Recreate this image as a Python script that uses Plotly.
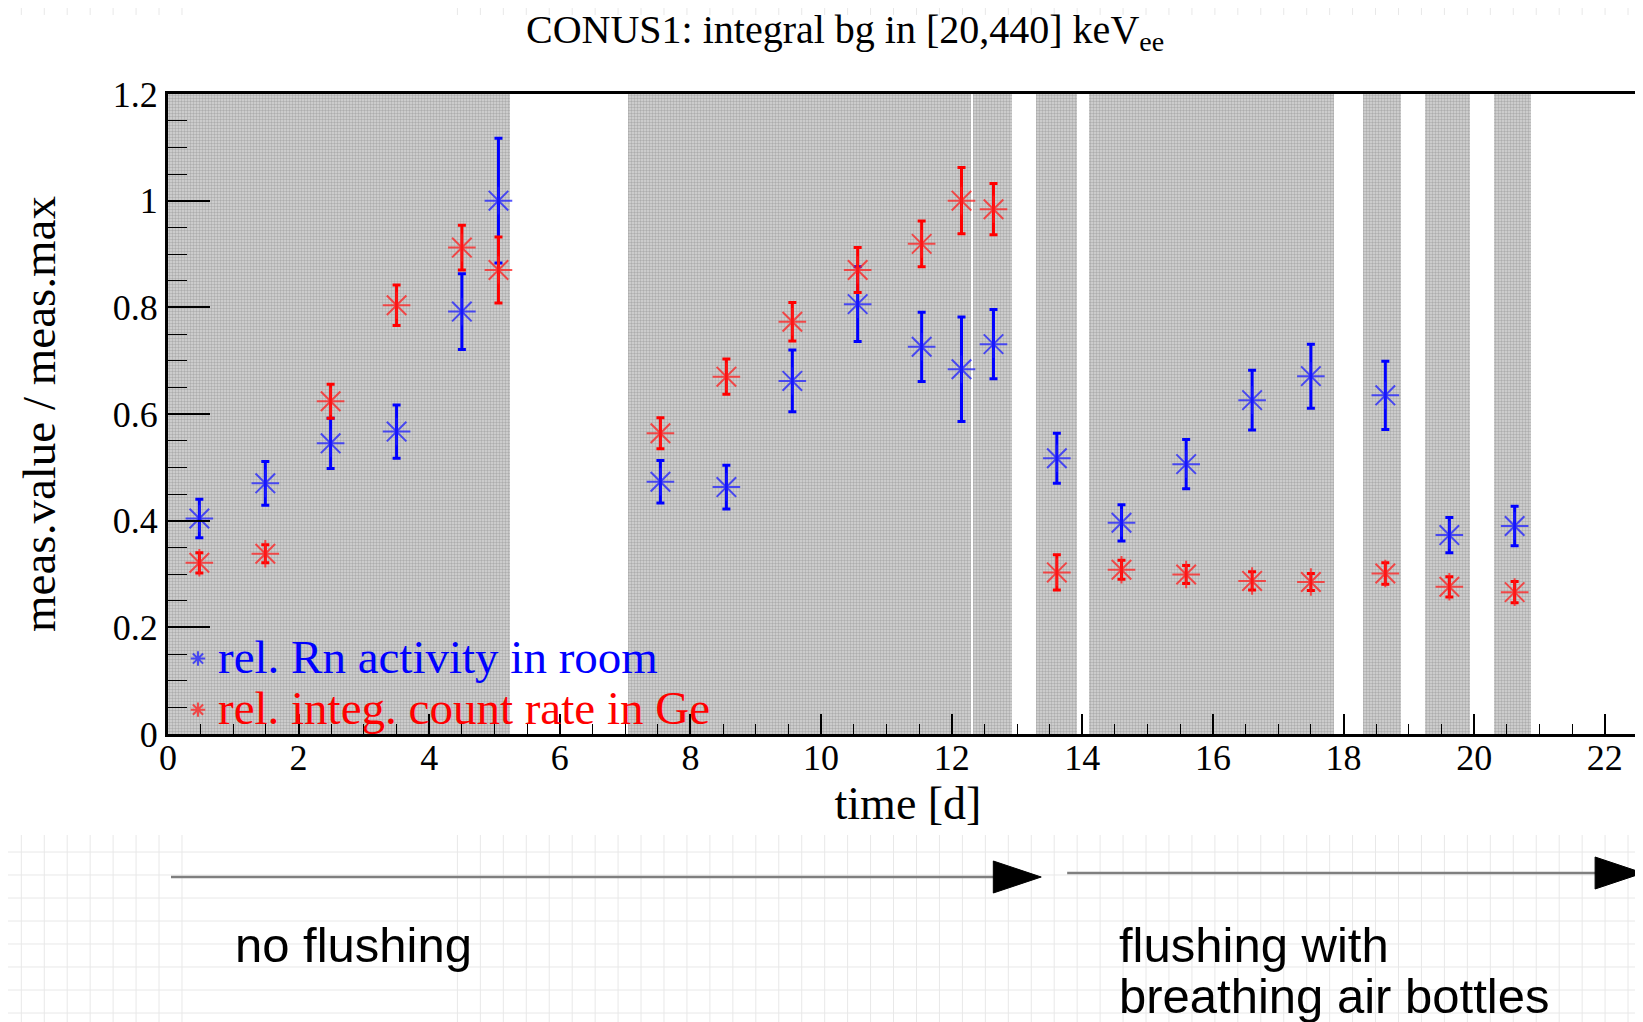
import plotly.graph_objects as go

# ---------------- data ----------------
t_days = [0.48, 1.49, 2.49, 3.50, 4.50, 5.06, 7.54, 8.55, 9.56, 10.56, 11.54,
          12.15, 12.64, 13.61, 14.60, 15.59, 16.60, 17.50, 18.64, 19.62, 20.62]
rn_rel = [0.404, 0.470, 0.545, 0.567, 0.792, 1.000, 0.473, 0.463, 0.662, 0.806, 0.726,
          0.684, 0.731, 0.517, 0.396, 0.506, 0.626, 0.671, 0.635, 0.373, 0.390]
rn_err = [0.036, 0.041, 0.047, 0.050, 0.071, 0.117, 0.040, 0.041, 0.058, 0.070, 0.065,
          0.098, 0.065, 0.047, 0.034, 0.046, 0.056, 0.060, 0.064, 0.033, 0.037]
ge_rel = [0.321, 0.338, 0.624, 0.804, 0.912, 0.870, 0.564, 0.670, 0.773, 0.870, 0.919,
          1.000, 0.984, 0.303, 0.308, 0.299, 0.287, 0.285, 0.301, 0.276, 0.266]
ge_err = [0.019, 0.017, 0.032, 0.038, 0.042, 0.062, 0.029, 0.033, 0.036, 0.042, 0.043,
          0.062, 0.048, 0.033, 0.018, 0.017, 0.017, 0.016, 0.020, 0.019, 0.020]

# shaded (data-taking) periods [start, end] in days
reg_start = [0.00, 7.05, 12.33, 13.29, 14.11, 18.30, 19.24, 20.30]
reg_end = [5.23, 12.29, 12.92, 13.92, 17.86, 18.88, 19.94, 20.87]

x_ticks = [0, 2, 4, 6, 8, 10, 12, 14, 16, 18, 20, 22]
y_ticks = [0, 0.2, 0.4, 0.6, 0.8, 1.0, 1.2]

title_text = "CONUS1: integral bg in [20,440] keV<sub>ee</sub>"
xlabel = "time [d]"
ylabel = "meas.value / meas.max"
name_rn = "rel. Rn activity in room"
name_ge = "rel. integ. count rate in Ge"
label_left = "no flushing"
label_right_1 = "flushing with"
label_right_2 = "breathing air bottles"

# ---------------- layout geometry ----------------
# all positions below are given in screen pixels of the photographed window;
# the page body adds an 8 px offset, compensated here.
OFF = 8
W_FIG, H_FIG = 1643, 1022
PLOT_LEFT_S, PLOT_TOP_S, PLOT_BOTTOM_S = 168, 94, 734
L = PLOT_LEFT_S - OFF
T = PLOT_TOP_S - OFF
B = H_FIG - (PLOT_BOTTOM_S - OFF)
R = 0
PW = W_FIG - L - R
PH = H_FIG - T - B
PX_PER_DAY = 65.44
X_MAX = PW / PX_PER_DAY
Y_MAX = 1.2


def fx(p):
    return (p - OFF - L) / PW


def fy(p):
    return ((H_FIG - B) - (p - OFF)) / PH


SERIF = "Liberation Serif"
SANS = "Liberation Sans"

fig = go.Figure()

# shaded periods as patterned bars
fig.add_trace(go.Bar(
    x=[(a + b) / 2 for a, b in zip(reg_start, reg_end)],
    y=[Y_MAX] * len(reg_start),
    width=[b - a for a, b in zip(reg_start, reg_end)],
    base=0,
    marker=dict(color="#d2d2d2", line=dict(width=0),
                pattern=dict(shape=".", fgcolor="#848484", bgcolor="#d6d6d6",
                             size=3, solidity=0.5)),
    showlegend=False, hoverinfo="skip",
))

LEG_SPAN = '<span style="font-size:47px;color:{c}">{t}</span>'

fig.add_trace(go.Scatter(
    x=t_days, y=rn_rel, mode="markers",
    name=LEG_SPAN.format(c="#0000ff", t=name_rn),
    marker=dict(symbol="asterisk-open", size=23, color="rgba(30,30,255,0.75)",
                line=dict(width=2, color="rgba(30,30,255,0.75)")),
    error_y=dict(type="data", array=rn_err, visible=True, color="#0000ff",
                 thickness=3, width=4),
))
fig.add_trace(go.Scatter(
    x=t_days, y=ge_rel, mode="markers",
    name=LEG_SPAN.format(c="#ff0000", t=name_ge),
    marker=dict(symbol="asterisk-open", size=23, color="rgba(255,30,30,0.75)",
                line=dict(width=2, color="rgba(255,30,30,0.75)")),
    error_y=dict(type="data", array=ge_err, visible=True, color="#ff0000",
                 thickness=3, width=4),
))

# ---------------- decorative background grid (slide canvas) ----------------
segs = []
x = 21
while x < W_FIG + OFF:
    if not (190 < x < 445):
        segs.append(f"M{fx(x):.5f},{fy(0):.5f} L{fx(x):.5f},{fy(15):.5f}")
        segs.append(f"M{fx(x):.5f},{fy(835):.5f} L{fx(x):.5f},{fy(H_FIG + OFF):.5f}")
    x += 23
y = 852
while y < H_FIG + OFF:
    segs.append(f"M{fx(0):.5f},{fy(y):.5f} L{fx(W_FIG + OFF):.5f},{fy(y):.5f}")
    y += 23
shapes = [dict(type="path", xref="paper", yref="paper", path=" ".join(segs),
               line=dict(color="#e8e8e8", width=1), layer="below")]

# arrows
shapes.append(dict(type="line", xref="paper", yref="paper",
                   x0=fx(171), y0=fy(877), x1=fx(997), y1=fy(877),
                   line=dict(color="#7f7f7f", width=2.5)))
shapes.append(dict(type="path", xref="paper", yref="paper",
                   path=f"M{fx(995)},{fy(861)} L{fx(1043)},{fy(877)} L{fx(995)},{fy(893)} Z",
                   fillcolor="black", line=dict(color="black", width=1)))
shapes.append(dict(type="line", xref="paper", yref="paper",
                   x0=fx(1069), y0=fy(873), x1=fx(1600), y1=fy(873),
                   line=dict(color="#7f7f7f", width=2.5)))
shapes.append(dict(type="path", xref="paper", yref="paper",
                   path=f"M{fx(1598)},{fy(857)} L{fx(1646)},{fy(873)} L{fx(1598)},{fy(889)} Z",
                   fillcolor="black", line=dict(color="black", width=1)))

annotations = [
    dict(text=title_text, xref="paper", yref="paper", x=fx(846), y=fy(32),
         xanchor="center", yanchor="middle", showarrow=False, height=44, valign="middle",
         font=dict(family=SERIF, size=40, color="black")),
    dict(text=label_left, xref="paper", yref="paper", x=fx(233), y=fy(945),
         xanchor="left", yanchor="middle", showarrow=False,
         font=dict(family=SANS, size=49, color="black")),
    dict(text=label_right_1, xref="paper", yref="paper", x=fx(1119), y=fy(945),
         xanchor="left", yanchor="middle", showarrow=False,
         font=dict(family=SANS, size=49, color="black")),
    dict(text=label_right_2, xref="paper", yref="paper", x=fx(1119), y=fy(996),
         xanchor="left", yanchor="middle", showarrow=False,
         font=dict(family=SANS, size=49, color="black")),
]

fig.update_layout(
    width=W_FIG, height=H_FIG,
    margin=dict(l=L, r=R, t=T, b=B, pad=0),
    paper_bgcolor="white", plot_bgcolor="white",
    barmode="overlay", bargap=0,
    shapes=shapes, annotations=annotations,
    font=dict(family=SERIF, color="black"),
    legend=dict(x=fx(178), y=fy(628), xanchor="left", yanchor="top",
                bgcolor="rgba(0,0,0,0)", borderwidth=0,
                font=dict(family=SERIF, size=37), tracegroupgap=0,
                itemsizing="constant"),
    showlegend=True,
)
fig.update_xaxes(
    range=[0, X_MAX], tickvals=x_ticks, ticks="inside", ticklen=20, tickwidth=1.5,
    tickcolor="black", showline=True, linewidth=3, linecolor="black", mirror=True,
    showgrid=False, zeroline=False, ticklabelstandoff=-10,
    tickfont=dict(family=SERIF, size=36, color="black"),
    minor=dict(dtick=0.5, ticks="inside", ticklen=10, tickwidth=1.2, tickcolor="black"),
    title=dict(text=xlabel, font=dict(family=SERIF, size=46, color="black"), standoff=2),
)
fig.update_yaxes(
    range=[0, Y_MAX], tickvals=y_ticks, ticks="inside", ticklen=42, tickwidth=1.5,
    tickcolor="black", showline=True, linewidth=3, linecolor="black", mirror=True,
    showgrid=False, zeroline=False,
    tickfont=dict(family=SERIF, size=36, color="black"),
    minor=dict(dtick=0.05, ticks="inside", ticklen=19, tickwidth=1.2, tickcolor="black"),
    title=dict(text=ylabel, font=dict(family=SERIF, size=47, color="black"), standoff=43),
)

fig.write_html("out.html")
